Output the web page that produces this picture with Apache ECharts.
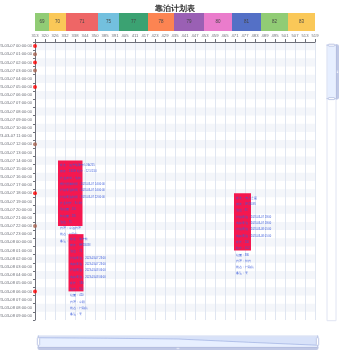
<!DOCTYPE html>
<html><head><meta charset="utf-8">
<script src="https://cdn.jsdelivr.net/npm/echarts@6/dist/echarts.min.js"></script>
<style>html,body{margin:0;padding:0;background:#fff}#c{width:350px;height:350px}</style>
</head><body><div id="c"></div>
<script>
const chartTitle = '靠泊计划表';
const xLabels = ['313','320','326','332','338','344','350','385','391','405','411','417','423','429','435','441','447','453','459','465','471','477','483','489','495','501','507','513','519'];
const times = [
 '2023-03-07 00:00:00','2023-03-07 01:00:00','2023-03-07 02:00:00','2023-03-07 03:00:00','2023-03-07 04:00:00','2023-03-07 05:00:00',
 '2023-03-07 06:00:00','2023-03-07 07:00:00','2023-03-07 08:00:00','2023-03-07 09:00:00','2023-03-07 10:00:00','2023-03-07 11:00:00',
 '2023-03-07 12:00:00','2023-03-07 13:00:00','2023-03-07 14:00:00','2023-03-07 15:00:00','2023-03-07 16:00:00','2023-03-07 17:00:00',
 '2023-03-07 18:00:00','2023-03-07 19:00:00','2023-03-07 20:00:00','2023-03-07 21:00:00','2023-03-07 22:00:00','2023-03-07 23:00:00',
 '2023-03-08 00:00:00','2023-03-08 01:00:00','2023-03-08 02:00:00','2023-03-08 03:00:00','2023-03-08 04:00:00','2023-03-08 05:00:00',
 '2023-03-08 06:00:00','2023-03-08 07:00:00','2023-03-08 08:00:00','2023-03-08 09:00:00'
];
const berths = ['69','70','71','75','77','78','79','80','81','82','83'];
const berthStart = [0, 1.4, 3.1, 6.3, 8.4, 11.3, 13.9, 16.9, 19.7, 22.6, 25.3];
const berthEnd   = [1.4, 3.1, 6.3, 8.4, 11.3, 13.9, 16.9, 19.7, 22.6, 25.3, 28];

const shipXStart = [2.3, 3.35, 19.9];
const shipXEnd   = [4.75, 4.85, 21.6];
const shipStart  = ['2023-03-07 14:00:00','2023-03-07 23:00:00','2023-03-07 18:00:00'];
const shipEnd    = ['2023-03-07 22:00:00','2023-03-08 06:00:00','2023-03-08 01:00:00'];
const shipInfo1 = ['船名：远洋明珠号 LOA:255','航次：2303E 吃水：12.5/13.0','作业类型：装卸','预计抵港时间：2023-03-07 14:00:00','计划靠泊时间：2023-03-07 14:00:00','计划离泊时间：2023-03-07 22:00:00','作业时长：8小时','装箱量：310','卸箱量：285','泊位：71','代理：中远代理','状态：已确认','备注：无'];
const shipInfo2 = ['船名：海丰轮','航次：HF2303N','泊位：71','计划靠泊：2023-03-07 23:00','实际靠泊：2023-03-07 23:00','计划离泊：2023-03-08 06:00','实际离泊：2023-03-08 06:00','船长：180','吃水：9.5','箱量：420','代理：中联','状态：已确认','备注：无'];
const shipInfo3 = ['船名：东方之星','航次：DF2303S','泊位：81','计划靠泊：2023-03-07 18:00','实际靠泊：2023-03-07 18:00','计划离泊：2023-03-08 01:00','实际离泊：2023-03-08 01:00','船长：200','吃水：10.2','箱量：380','代理：外代','状态：已确认','备注：无'];

const redMarks   = ['2023-03-07 00:00:00','2023-03-07 02:00:00','2023-03-07 05:00:00','2023-03-07 18:00:00','2023-03-08 06:00:00'];
const brownMarks = ['2023-03-07 01:00:00','2023-03-07 03:00:00','2023-03-07 12:00:00','2023-03-07 22:00:00'];

const palette = ['#91cc75','#fac858','#ee6666','#73c0de','#3ba272','#fc8452','#9a60b4','#ea7ccc','#5470c6','#91cc75','#fac858'];
const shipInfos = [shipInfo1, shipInfo2, shipInfo3];

const berthData = berths.map((b, i) => [berthStart[i], berthEnd[i], 0, b]);
const shipData = shipXStart.map((s, i) => [s, shipXEnd[i], times.indexOf(shipStart[i]), times.indexOf(shipEnd[i])]);

const chart = echarts.init(document.getElementById('c'), null, {renderer: 'canvas'});
chart.setOption({
  animation: false,
  title: {text: chartTitle, left: 'center', top: 0, textStyle: {fontSize: 7.5, fontWeight: 'bold', color: '#333'}},
  grid: [
    {left: 35, right: 35, top: 42, bottom: 30, containLabel: false, outerBoundsMode: 'none'},
    {left: 35, right: 35, top: 13, height: 18, containLabel: false, outerBoundsMode: 'none'}
  ],
  xAxis: [
    {type: 'value', gridIndex: 0, position: 'top', min: 0, max: 28, interval: 1,
     axisLine: {show: true, lineStyle: {color: '#6E7079'}},
     axisTick: {show: true, length: 3},
     axisLabel: {fontSize: 4.2, color: '#6E7079', margin: 4, formatter: v => xLabels[v] || ''},
     splitLine: {show: true, lineStyle: {color: '#E0E6F1'}}},
    {type: 'value', gridIndex: 1, min: 0, max: 28, show: false}
  ],
  yAxis: [
    {type: 'category', gridIndex: 0, inverse: true, data: times,
     axisLine: {show: true, lineStyle: {color: '#6E7079'}},
     axisTick: {show: true, length: 2},
     axisLabel: {fontSize: 4.1, color: '#6E7079', margin: 3, interval: 0},
     splitArea: {show: true}},
    {type: 'category', gridIndex: 1, data: ['泊位'], show: false},
    {type: 'value', gridIndex: 0, min: 0, max: 100, inverse: true, show: false}
  ],
  dataZoom: [
    {type: 'slider', xAxisIndex: 0, start: 0, end: 100, left: 35, right: 34, bottom: 3, height: 12,
     moveHandleSize: 3, showDetail: false},
    {type: 'slider', yAxisIndex: 2, orient: 'vertical', start: 0, end: 20, right: 14, width: 10, top: 43, bottom: 30,
     moveHandleSize: 3, showDetail: false, showDataShadow: false}
  ],
  series: [
    {type: 'custom', xAxisIndex: 1, yAxisIndex: 1, data: berthData, encode: {x: [0, 1], y: 2},
     renderItem: function (params, api) {
       const p0 = api.coord([api.value(0), 0]);
       const p1 = api.coord([api.value(1), 0]);
       const h = api.size([0, 1])[1];
       return {type: 'group', children: [
         {type: 'rect', shape: {x: p0[0], y: p0[1] - h / 2, width: p1[0] - p0[0], height: h}, style: {fill: palette[params.dataIndex]}},
         {type: 'text', x: (p0[0] + p1[0]) / 2, y: p0[1], style: {text: berths[params.dataIndex], fill: '#444', fontSize: 4.5, align: 'center', verticalAlign: 'middle'}}
       ]};
     }},
    {type: 'custom', xAxisIndex: 0, yAxisIndex: 0, data: shipData, encode: {x: [0, 1], y: [2, 3]}, clip: false,
     renderItem: function (params, api) {
       const p0 = api.coord([api.value(0), api.value(2)]);
       const p1 = api.coord([api.value(1), api.value(3)]);
       return {type: 'group', children: [
         {type: 'rect', shape: {x: p0[0], y: p0[1], width: p1[0] - p0[0], height: p1[1] - p0[1]}, style: {fill: '#f5174f'}},
         {type: 'text', x: p0[0] + 1.7, y: p0[1] + 1.7, style: {text: shipInfos[params.dataIndex].join('\n'), fill: '#3b5bdb', fontSize: 2.6, lineHeight: 6.3, verticalAlign: 'top', fontFamily: 'sans-serif'}}
       ]};
     }},
    {type: 'scatter', xAxisIndex: 0, yAxisIndex: 0, symbolSize: 4, itemStyle: {color: '#ff0000'}, data: redMarks.map(t => [0, t])},
    {type: 'scatter', xAxisIndex: 0, yAxisIndex: 0, symbolSize: 4, itemStyle: {color: '#a5624f'}, data: brownMarks.map(t => [0, t])}
  ]
});
</script></body></html>
